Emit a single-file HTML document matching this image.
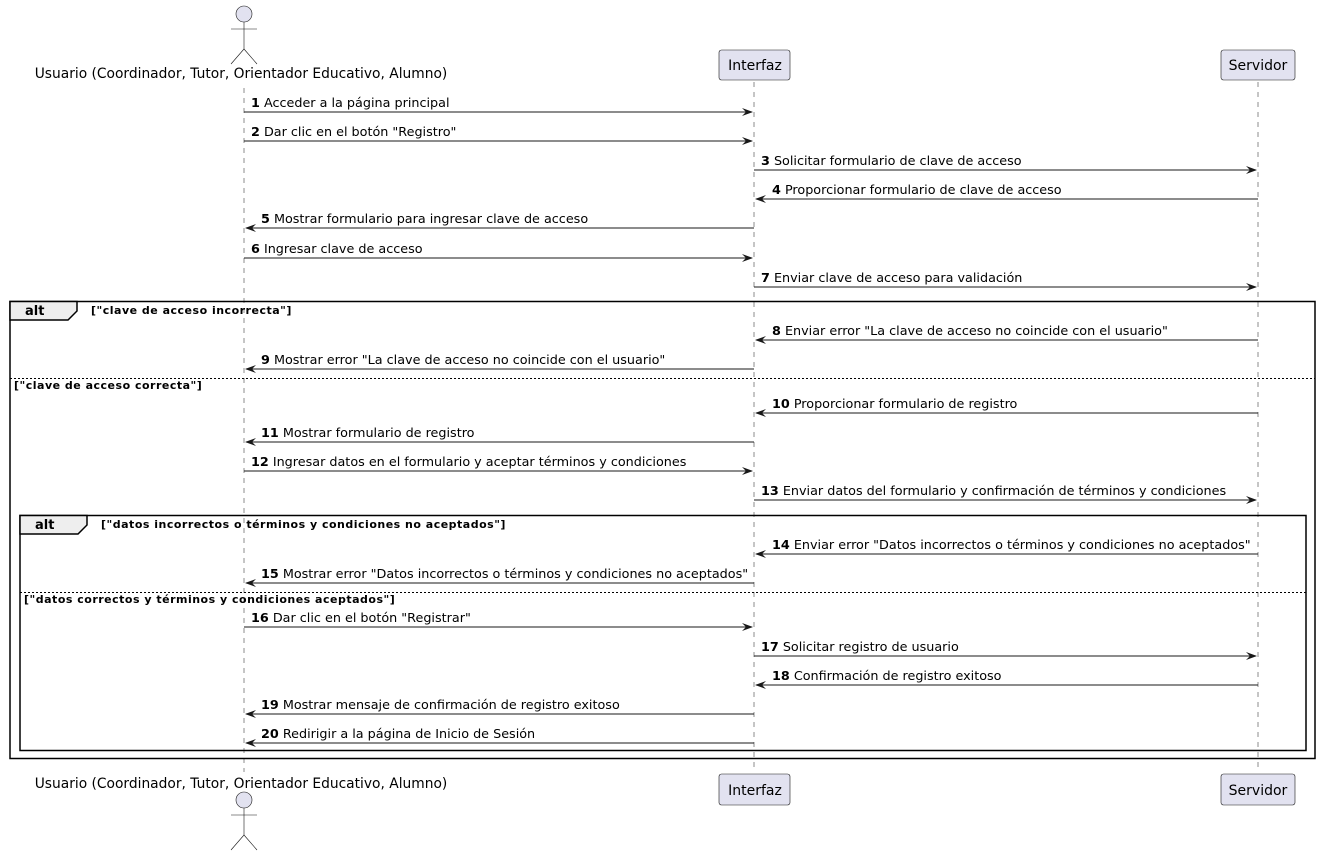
<!DOCTYPE html>
<html><head><meta charset="utf-8"><style>
html,body{margin:0;padding:0;background:#fff}
svg{display:block}
text{font-family:"DejaVu Sans","Liberation Sans",sans-serif;fill:#000}
.m{font-size:12.78px}
.g{font-size:11px;font-weight:bold;letter-spacing:0.5px}
</style></head><body>
<svg width="1321" height="855" viewBox="0 0 1321 855" xmlns="http://www.w3.org/2000/svg">
<g stroke="#181818" stroke-width="0.5" stroke-dasharray="5,5">
<line x1="244" y1="88" x2="244" y2="772"/>
<line x1="754" y1="82" x2="754" y2="772"/>
<line x1="1258" y1="82" x2="1258" y2="772"/>
</g>
<g stroke="#181818" stroke-width="0.6" fill="#E2E2F0">
<circle cx="244" cy="14" r="8"/>
<line x1="244" y1="22" x2="244" y2="49" fill="none"/>
<line x1="231" y1="29" x2="257" y2="29"/>
<line x1="244" y1="49" x2="231" y2="64"/>
<line x1="244" y1="49" x2="257" y2="64"/>
<circle cx="244" cy="800" r="8"/>
<line x1="244" y1="808" x2="244" y2="835"/>
<line x1="231" y1="815" x2="257" y2="815"/>
<line x1="244" y1="835" x2="231" y2="850"/>
<line x1="244" y1="835" x2="257" y2="850"/>
<rect x="719" y="50" width="71" height="30" rx="2.5"/>
<rect x="1221" y="50" width="74" height="30" rx="2.5"/>
<rect x="719" y="774" width="71" height="31" rx="2.5"/>
<rect x="1221" y="774" width="74" height="31" rx="2.5"/>
</g>
<text x="241" y="78" text-anchor="middle" style="font-size:13.8px">Usuario (Coordinador, Tutor, Orientador Educativo, Alumno)</text>
<text x="241" y="788" text-anchor="middle" style="font-size:13.8px">Usuario (Coordinador, Tutor, Orientador Educativo, Alumno)</text>
<text x="755" y="70" text-anchor="middle" style="font-size:14px">Interfaz</text>
<text x="1258" y="70" text-anchor="middle" style="font-size:14px">Servidor</text>
<text x="755" y="795" text-anchor="middle" style="font-size:14px">Interfaz</text>
<text x="1258" y="795" text-anchor="middle" style="font-size:14px">Servidor</text>
<g fill="none" stroke="#000">
<rect x="10" y="301.5" width="1305" height="457" stroke-width="1.5"/>
<rect x="20" y="515.5" width="1286" height="235" stroke-width="1.5"/>
<path d="M10 301.5 H77 V311 L68 320 H10 Z" fill="#EEEEEE" stroke-width="1.5"/>
<path d="M20 515.5 H87 V525 L78 534 H20 Z" fill="#EEEEEE" stroke-width="1.5"/>
<line x1="10" y1="378.5" x2="1315" y2="378.5" stroke-dasharray="2,2" stroke-width="1"/>
<line x1="20" y1="592.5" x2="1306" y2="592.5" stroke-dasharray="2,2" stroke-width="1"/>
</g>
<text x="25" y="315" style="font-size:13px;font-weight:bold">alt</text>
<text x="35" y="529" style="font-size:13px;font-weight:bold">alt</text>
<text x="91" y="314" class="g">["clave de acceso incorrecta"]</text>
<text x="14" y="389" class="g">["clave de acceso correcta"]</text>
<text x="101" y="528" class="g">["datos incorrectos o términos y condiciones no aceptados"]</text>
<text x="24" y="603" class="g">["datos correctos y términos y condiciones aceptados"]</text>
<g stroke="#181818" stroke-width="1">
<line x1="244" y1="112" x2="752" y2="112"/>
<line x1="244" y1="141" x2="752" y2="141"/>
<line x1="754" y1="170" x2="1256" y2="170"/>
<line x1="756" y1="199" x2="1258" y2="199"/>
<line x1="246" y1="228" x2="754" y2="228"/>
<line x1="244" y1="258" x2="752" y2="258"/>
<line x1="754" y1="287" x2="1256" y2="287"/>
<line x1="756" y1="340" x2="1258" y2="340"/>
<line x1="246" y1="369" x2="754" y2="369"/>
<line x1="756" y1="413" x2="1258" y2="413"/>
<line x1="246" y1="442" x2="754" y2="442"/>
<line x1="244" y1="471" x2="752" y2="471"/>
<line x1="754" y1="500" x2="1256" y2="500"/>
<line x1="756" y1="554" x2="1258" y2="554"/>
<line x1="246" y1="583" x2="754" y2="583"/>
<line x1="244" y1="627" x2="752" y2="627"/>
<line x1="754" y1="656" x2="1256" y2="656"/>
<line x1="756" y1="685" x2="1258" y2="685"/>
<line x1="246" y1="714" x2="754" y2="714"/>
<line x1="246" y1="743" x2="754" y2="743"/>
</g>
<g fill="#181818">
<polygon points="742,108 753,112 742,116 746,112"/>
<polygon points="742,137 753,141 742,145 746,141"/>
<polygon points="1246,166 1257,170 1246,174 1250,170"/>
<polygon points="766,195 755,199 766,203 762,199"/>
<polygon points="256,224 245,228 256,232 252,228"/>
<polygon points="742,254 753,258 742,262 746,258"/>
<polygon points="1246,283 1257,287 1246,291 1250,287"/>
<polygon points="766,336 755,340 766,344 762,340"/>
<polygon points="256,365 245,369 256,373 252,369"/>
<polygon points="766,409 755,413 766,417 762,413"/>
<polygon points="256,438 245,442 256,446 252,442"/>
<polygon points="742,467 753,471 742,475 746,471"/>
<polygon points="1246,496 1257,500 1246,504 1250,500"/>
<polygon points="766,550 755,554 766,558 762,554"/>
<polygon points="256,579 245,583 256,587 252,583"/>
<polygon points="742,623 753,627 742,631 746,627"/>
<polygon points="1246,652 1257,656 1246,660 1250,656"/>
<polygon points="766,681 755,685 766,689 762,685"/>
<polygon points="256,710 245,714 256,718 252,714"/>
<polygon points="256,739 245,743 256,747 252,743"/>
</g>
<g class="m">
<text x="251" y="107"><tspan font-weight="bold">1</tspan> Acceder a la página principal</text>
<text x="251" y="136"><tspan font-weight="bold">2</tspan> Dar clic en el botón "Registro"</text>
<text x="761" y="165"><tspan font-weight="bold">3</tspan> Solicitar formulario de clave de acceso</text>
<text x="772" y="194"><tspan font-weight="bold">4</tspan> Proporcionar formulario de clave de acceso</text>
<text x="261" y="223"><tspan font-weight="bold">5</tspan> Mostrar formulario para ingresar clave de acceso</text>
<text x="251" y="253"><tspan font-weight="bold">6</tspan> Ingresar clave de acceso</text>
<text x="761" y="282"><tspan font-weight="bold">7</tspan> Enviar clave de acceso para validación</text>
<text x="772" y="335"><tspan font-weight="bold">8</tspan> Enviar error "La clave de acceso no coincide con el usuario"</text>
<text x="261" y="364"><tspan font-weight="bold">9</tspan> Mostrar error "La clave de acceso no coincide con el usuario"</text>
<text x="772" y="408"><tspan font-weight="bold">10</tspan> Proporcionar formulario de registro</text>
<text x="261" y="437"><tspan font-weight="bold">11</tspan> Mostrar formulario de registro</text>
<text x="251" y="466"><tspan font-weight="bold">12</tspan> Ingresar datos en el formulario y aceptar términos y condiciones</text>
<text x="761" y="495"><tspan font-weight="bold">13</tspan> Enviar datos del formulario y confirmación de términos y condiciones</text>
<text x="772" y="549"><tspan font-weight="bold">14</tspan> Enviar error "Datos incorrectos o términos y condiciones no aceptados"</text>
<text x="261" y="578"><tspan font-weight="bold">15</tspan> Mostrar error "Datos incorrectos o términos y condiciones no aceptados"</text>
<text x="251" y="622"><tspan font-weight="bold">16</tspan> Dar clic en el botón "Registrar"</text>
<text x="761" y="651"><tspan font-weight="bold">17</tspan> Solicitar registro de usuario</text>
<text x="772" y="680"><tspan font-weight="bold">18</tspan> Confirmación de registro exitoso</text>
<text x="261" y="709"><tspan font-weight="bold">19</tspan> Mostrar mensaje de confirmación de registro exitoso</text>
<text x="261" y="738"><tspan font-weight="bold">20</tspan> Redirigir a la página de Inicio de Sesión</text>
</g>
</svg>
</body></html>
